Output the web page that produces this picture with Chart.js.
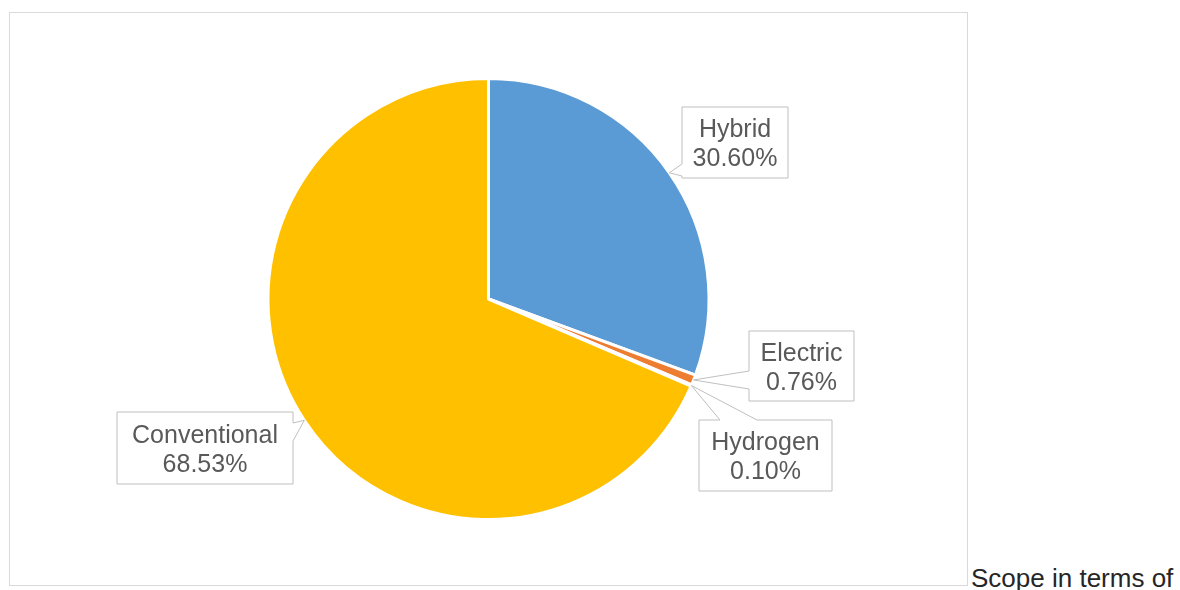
<!DOCTYPE html>
<html>
<head>
<meta charset="utf-8">
<script src="https://cdn.jsdelivr.net/npm/chart.js@4"></script>
<style>
  body { margin: 0; background: #fff; width: 1180px; height: 590px; overflow: hidden; position: relative; font-family: "Liberation Sans", Arial, sans-serif; }
  #box { position: absolute; left: 9px; top: 12px; width: 957px; height: 572px; border: 1px solid #d9d9d9; }
  #scope { position: absolute; left: 971px; top: 565px; font-size: 26px; line-height: 26px; color: #262626; white-space: nowrap; }
</style>
</head>
<body>
<div id="box"><canvas id="pieChart" width="957" height="572"></canvas></div>
<div id="scope">Scope in terms of</div>
<script>
// datos del gráfico
const categories = ['Hybrid', 'Electric', 'Hydrogen', 'Conventional'];
const shares = [30.60, 0.76, 0.10, 68.53];
const colors = ['#5B9BD5', '#ED7D31', '#A5A5A5', '#FFC000'];

// cajas de etiquetas (coordenadas del canvas) y lado del puntero
const callouts = [
    { x: 672, y: 94, w: 106, h: 71, side: 'left', a: 57, b: 69 },
    { x: 739, y: 318, w: 105, h: 70, side: 'left', a: 40, b: 58 },
    { x: 689, y: 407, w: 133, h: 71, side: 'top', a: 21, b: 58 },
    { x: 107, y: 399, w: 176, h: 72, side: 'right', a: 11, b: 29 }
];

// Plugin para dibujar las etiquetas tipo globo
const calloutPlugin = {
    id: 'callouts',
    afterDatasetsDraw(chart) {
        const ctx = chart.ctx;
        const meta = chart.getDatasetMeta(0);
        meta.data.forEach((arc, i) => {
            const c = callouts[i];
            const mid = (arc.startAngle + arc.endAngle) / 2;
            const tx = arc.x + Math.cos(mid) * arc.outerRadius;
            const ty = arc.y + Math.sin(mid) * arc.outerRadius;
            const L = c.x, T = c.y, R = c.x + c.w, B = c.y + c.h;

            ctx.save();
            ctx.beginPath();
            ctx.moveTo(L, T);
            if (c.side === 'top') {
                ctx.lineTo(L + c.a, T); ctx.lineTo(tx, ty); ctx.lineTo(L + c.b, T);
            }
            ctx.lineTo(R, T);
            if (c.side === 'right') {
                ctx.lineTo(R, T + c.a); ctx.lineTo(tx, ty); ctx.lineTo(R, T + c.b);
            }
            ctx.lineTo(R, B);
            ctx.lineTo(L, B);
            if (c.side === 'left') {
                ctx.lineTo(L, T + c.b); ctx.lineTo(tx, ty); ctx.lineTo(L, T + c.a);
            }
            ctx.closePath();
            ctx.fillStyle = '#ffffff';
            ctx.fill();
            ctx.strokeStyle = '#bfbfbf';
            ctx.lineWidth = 1;
            ctx.stroke();

            ctx.fillStyle = '#595959';
            ctx.font = '25px "Liberation Sans", Arial, sans-serif';
            ctx.textAlign = 'center';
            ctx.textBaseline = 'middle';
            const cx = L + c.w / 2;
            ctx.fillText(categories[i], cx, T + c.h / 2 - 12);
            ctx.fillText(shares[i].toFixed(2) + '%', cx, T + c.h / 2 + 17);
            ctx.restore();
        });
    }
};

new Chart(document.getElementById('pieChart').getContext('2d'), {
    type: 'pie',
    data: {
        labels: categories,
        datasets: [{
            data: shares,
            backgroundColor: colors,
            borderColor: '#ffffff',
            borderWidth: 3
        }]
    },
    options: {
        responsive: false,
        animation: false,
        layout: { padding: { top: 64, bottom: 64 } },
        plugins: {
            legend: { display: false },
            tooltip: { enabled: false }
        }
    },
    plugins: [calloutPlugin]
});
</script>
</body>
</html>
